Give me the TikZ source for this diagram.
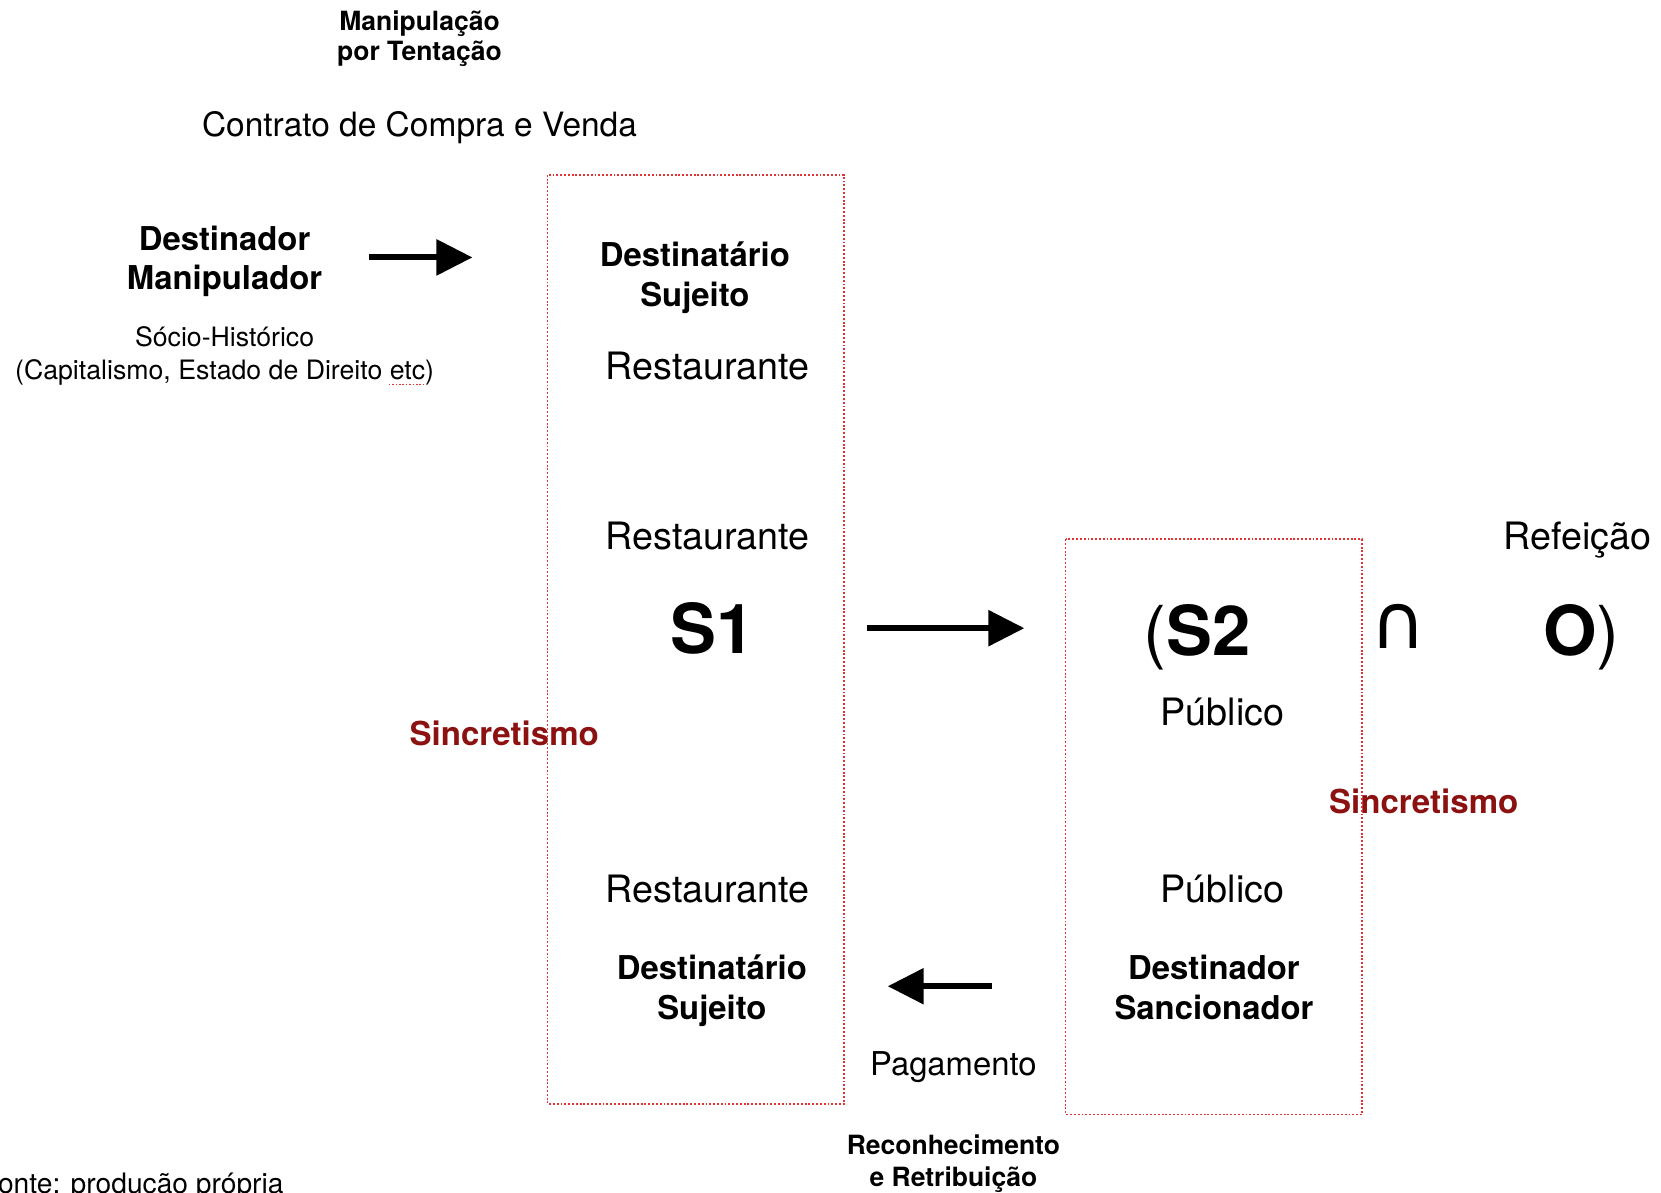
\documentclass[tikz,border=0pt]{standalone}
\usepackage{fontspec}
\setmainfont{TeX Gyre Heros}
\newfontfamily\symfont{DejaVu Sans}
\usetikzlibrary{arrows.meta}
\definecolor{boxred}{RGB}{226,52,52}
\definecolor{sincred}{RGB}{140,18,18}
\begin{document}
\begin{tikzpicture}[x=0.5pt,y=-0.5pt,
  lbl/.style={inner sep=0pt, anchor=base},
  titlebold/.style={lbl, font=\fontsize{12.5}{14}\selectfont\bfseries},
  rolebold/.style={lbl, font=\fontsize{15.5}{18}\selectfont\bfseries},
  actor/.style={lbl, font=\fontsize{17.8}{20}\selectfont},
  small/.style={lbl, font=\fontsize{12.6}{15}\selectfont},
  big/.style={lbl, font=\fontsize{32.5}{36}\selectfont},
  actbox/.style={draw=boxred, line width=0.75pt, dash pattern=on 0.9pt off 0.9pt},
  bigarrow/.style={line width=2.8pt, -{Triangle[length=17pt,width=16.5pt]}},
  sinc/.style={lbl, text=sincred, font=\fontsize{15.6}{18}\selectfont\bfseries},
]
\useasboundingbox (0,0) rectangle (1568,1126);

% top titles
\node[titlebold] (mt1) at (396,29) {Manipulação};
\node[titlebold] (mt2) at (396,57) {por Tentação};
\node[lbl, font=\fontsize{15.8}{20}\selectfont] (ccv) at (396,129) {Contrato de Compra e Venda};

% left actor
\node[rolebold] (dm1) at (212,236) {Destinador};
\node[rolebold] (dm2) at (212,273) {Manipulador};
\node[small] (sh1) at (212,327) {Sócio-Histórico};
\node[small] (sh2) at (212,358) {(Capitalismo, Estado de Direito etc)};
\draw[boxred, line width=0.6pt, dash pattern=on 0.8pt off 0.8pt] (367,363) -- (400,363);

% syncretism labels (under the boxes)
\node[sinc] (sc1) at (476,704) {Sincretismo};
\node[sinc] (sc2) at (1344,768) {Sincretismo};

% box 1
\draw[actbox] (517,165) rectangle (797,1042);
\node[rolebold] (ds1) at (656,252) {Destinatário};
\node[rolebold] (ds2) at (656,289) {Sujeito};
\node[actor] (r1) at (668,358.5) {Restaurante};
\node[actor] (r2) at (668,518.5) {Restaurante};
\node[big] (s1) at (673,617) {\bfseries S1};
\node[actor] (r3) at (668,851.5) {Restaurante};
\node[rolebold] (ds3) at (672,925) {Destinatário};
\node[rolebold] (ds4) at (672,962) {Sujeito};

% box 2
\draw[actbox] (1006,509) rectangle (1286,1052);
\node[big] (s2) at (1130,619) {(\textbf{S2}};
\node[lbl, font=\symfont\fontsize{36}{38}\selectfont] (cap) at (1320,612) {∩};
\node[big] (obj) at (1493,619) {\textbf{O})};
\node[actor] (ref) at (1489,519) {Refeição};
\node[actor] (p1) at (1154,685) {Público};
\node[actor] (p2) at (1154,852) {Público};
\node[rolebold] (dn1) at (1146,925) {Destinador};
\node[rolebold] (dn2) at (1146,962) {Sancionador};

% bottom labels
\node[lbl, font=\fontsize{15.5}{18}\selectfont] (pag) at (900,1015) {Pagamento};
\node[titlebold] (rr1) at (900,1090) {Reconhecimento};
\node[titlebold] (rr2) at (900,1120) {e Retribuição};
\node[lbl, anchor=base east, font=\fontsize{13.3}{15}\selectfont] (fonte) at (268,1127) {Fonte: produção própria};

% arrows
\coordinate (a1s) at (348,243); \coordinate (a1e) at (446,243);
\coordinate (a2s) at (818,593); \coordinate (a2e) at (967,593);
\coordinate (a3s) at (936,931); \coordinate (a3e) at (838,931);
\draw[bigarrow] (a1s) -- (a1e);
\draw[bigarrow] (a2s) -- (a2e);
\draw[bigarrow] (a3s) -- (a3e);
\end{tikzpicture}
\end{document}
